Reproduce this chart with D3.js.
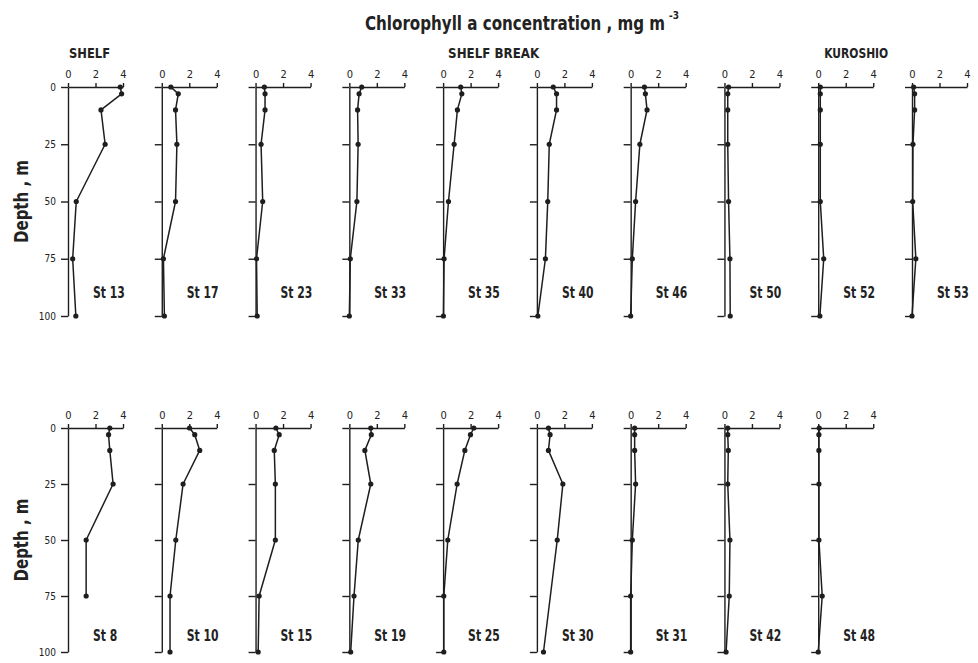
<!DOCTYPE html>
<html>
<head>
<meta charset="utf-8">
<script src="https://cdn.jsdelivr.net/npm/d3@7"></script>
<style>
  body { margin: 0; background: #fff; }
  svg text { fill: #222; }
</style>
</head>
<body>
<svg id="chart"></svg>
<script>
// sampling depths (m) and axis ticks
const depths = [0, 3, 10, 25, 50, 75, 100];
const depthTicks = [0, 25, 50, 75, 100];
const chlTicks = [0, 2, 4];

// top row: chlorophyll a (mg m-3) at each depth
const topStations = ["St 13", "St 17", "St 23", "St 33", "St 35", "St 40", "St 46", "St 50", "St 52", "St 53"];
const topChl = [
  [3.8, 3.9, 2.4, 2.7, 0.6, 0.34, 0.57],
  [0.66, 1.2, 1.0, 1.1, 1.0, 0.12, 0.19],
  [0.64, 0.69, 0.69, 0.4, 0.52, 0.07, 0.12],
  [0.9, 0.71, 0.6, 0.64, 0.55, 0.07, 0.0],
  [1.28, 1.36, 1.04, 0.8, 0.39, 0.07, 0.02],
  [1.19, 1.43, 1.43, 0.9, 0.79, 0.62, 0.07],
  [1.0, 1.07, 1.19, 0.67, 0.36, 0.12, 0.0],
  [0.3, 0.24, 0.24, 0.24, 0.3, 0.4, 0.42],
  [0.15, 0.15, 0.15, 0.15, 0.15, 0.4, 0.12],
  [0.12, 0.19, 0.19, 0.07, 0.05, 0.28, 0.0]
];

// bottom row (null = not sampled)
const bottomStations = ["St 8", "St 10", "St 15", "St 19", "St 25", "St 30", "St 31", "St 42", "St 48"];
const bottomChl = [
  [3.04, 2.95, 3.04, 3.28, 1.32, 1.32, null],
  [2.02, 2.4, 2.76, 1.55, 1.02, 0.6, 0.6],
  [1.48, 1.72, 1.36, 1.44, 1.44, 0.26, 0.19],
  [1.56, 1.6, 1.13, 1.56, 0.65, 0.34, 0.1],
  [2.23, 1.99, 1.58, 1.02, 0.34, 0.05, 0.05],
  [0.84, 0.96, 0.84, 1.89, 1.48, null, 0.48],
  [0.29, 0.29, 0.29, 0.36, 0.12, 0.0, 0.0],
  [0.24, 0.24, 0.28, 0.24, 0.4, 0.35, 0.12],
  [0.07, 0.05, 0.05, 0.05, 0.05, 0.29, 0.0]
];

const regionNames = ["SHELF", "SHELF BREAK", "KUROSHIO"];

const W = 978, H = 663;
const FONT = "'DejaVu Sans Condensed', 'Liberation Sans Narrow', 'DejaVu Sans', sans-serif";
const INK = "#1e1e1e";

const svg = d3.select("#chart").attr("width", W).attr("height", H)
  .attr("viewBox", `0 0 ${W} ${H}`)
  .style("font-family", FONT);

// squeeze text horizontally, the lettering in the figure is narrow
function condense(sel, f) {
  sel.each(function() {
    const w = this.getComputedTextLength();
    d3.select(this).attr("textLength", w * f).attr("lengthAdjust", "spacingAndGlyphs");
  });
}

// column of each panel's depth axis
const colX = d3.scaleLinear().domain([0, 9]).range([68, 912]);
const PANEL_W = 55;

const rows = [
  { stations: topStations, chl: topChl, y0: 87, y1: 316, labelY: 298 },
  { stations: bottomStations, chl: bottomChl, y0: 428, y1: 652, labelY: 641 }
];

function drawPanel(g, i, row) {
  const cx = colX(i);
  const x = d3.scaleLinear().domain([0, 4]).range([cx, cx + PANEL_W]);
  const y = d3.scaleLinear().domain([0, 100]).range([row.y0, row.y1]);

  const yAxis = d3.axisLeft(y).tickValues(depthTicks).tickSize(7).tickSizeOuter(0).tickPadding(5)
    .tickFormat(i === 0 ? d3.format("d") : () => "");
  const gy = g.append("g").attr("transform", `translate(${cx},0)`).call(yAxis);

  const xAxis = d3.axisTop(x).tickValues(chlTicks).tickSize(4).tickSizeOuter(0).tickPadding(5)
    .tickFormat(d3.format("d"));
  const gx = g.append("g").attr("transform", `translate(0,${row.y0})`).call(xAxis);

  for (const a of [gx, gy]) {
    a.selectAll("path, line").attr("stroke", INK).attr("stroke-width", 1.4);
    a.selectAll("text").attr("fill", INK).style("font-family", FONT).style("font-size", "11px");
  }
  gy.selectAll("text").style("font-size", "10px");

  const pts = depths.map((d, k) => ({ d, v: row.chl[i][k] })).filter(p => p.v != null);

  g.append("path")
    .datum(pts)
    .attr("fill", "none").attr("stroke", INK).attr("stroke-width", 1.5)
    .attr("stroke-linejoin", "round")
    .attr("d", d3.line().x(p => x(p.v)).y(p => y(p.d)));

  g.selectAll("circle.obs").data(pts).join("circle")
    .attr("class", "obs")
    .attr("cx", p => x(p.v)).attr("cy", p => y(p.d)).attr("r", 2.6)
    .attr("fill", INK);

  g.append("text")
    .attr("x", cx + 25).attr("y", row.labelY)
    .style("font-size", "15px").style("font-weight", "bold")
    .text(row.stations[i])
    .call(condense, 0.8);
}

for (const row of rows) {
  const g = svg.append("g");
  row.stations.forEach((s, i) => drawPanel(g.append("g"), i, row));

  g.append("text")
    .attr("transform", `translate(28,${(row.y0 + row.y1) / 2}) rotate(-90)`)
    .attr("text-anchor", "middle")
    .attr("textLength", 83).attr("lengthAdjust", "spacingAndGlyphs")
    .style("font-size", "20px").style("font-weight", "bold")
    .text("Depth , m");
}

// title, with the unit exponent raised in the same text element
const title = svg.append("text")
  .attr("x", 365).attr("y", 30)
  .style("font-size", "19px").style("font-weight", "bold");
title.append("tspan")
  .attr("textLength", 300).attr("lengthAdjust", "spacingAndGlyphs")
  .text("Chlorophyll a concentration , mg m");
title.append("tspan")
  .attr("dx", 4).attr("dy", -11)
  .style("font-size", "10px")
  .text("-3");

// region headers
const regionX = [colX(0) + 1, colX(4) + 5, colX(8) + 6];
const regionLen = [41, 91, 64];
regionNames.forEach((name, k) => {
  svg.append("text")
    .attr("x", regionX[k]).attr("y", 58)
    .attr("textLength", regionLen[k]).attr("lengthAdjust", "spacingAndGlyphs")
    .style("font-size", "14px").style("font-weight", "bold")
    .text(name);
});
</script>
</body>
</html>
